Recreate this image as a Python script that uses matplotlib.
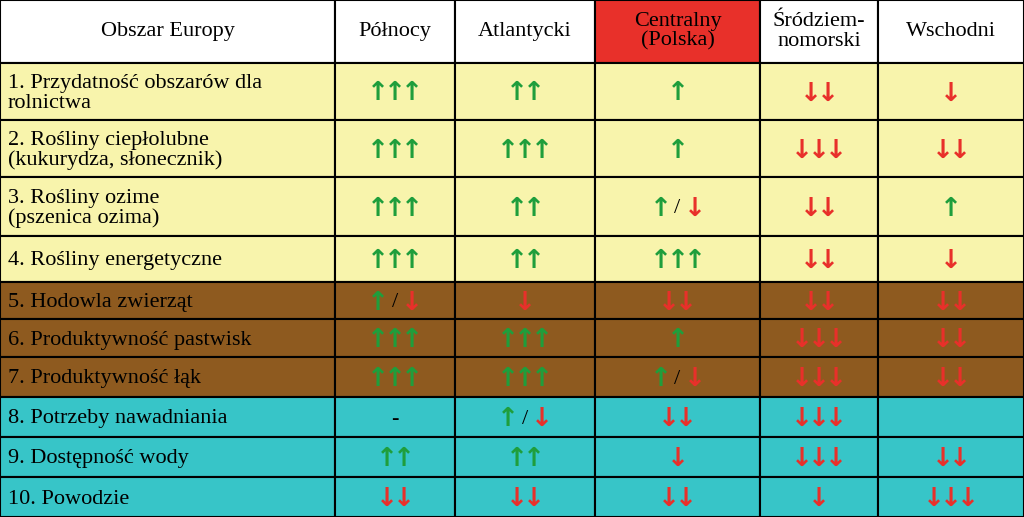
import matplotlib
matplotlib.use("Agg")
import matplotlib.pyplot as plt
from matplotlib.patches import Rectangle

headers = ["Obszar Europy", "Północy", "Atlantycki", "Centralny\n(Polska)", "Śródziem-\nnomorski", "Wschodni"]
rows = ["1. Przydatność obszarów dla\nrolnictwa", "2. Rośliny ciepłolubne\n(kukurydza, słonecznik)",
        "3. Rośliny ozime\n(pszenica ozima)", "4. Rośliny energetyczne", "5. Hodowla zwierząt",
        "6. Produktywność pastwisk", "7. Produktywność łąk", "8. Potrzeby nawadniania",
        "9. Dostępność wody", "10. Powodzie"]
cells = [
    ["uuu", "uu", "u", "dd", "d"],
    ["uuu", "uuu", "u", "ddd", "dd"],
    ["uuu", "uu", "u/d", "dd", "u"],
    ["uuu", "uu", "uuu", "dd", "d"],
    ["u/d", "d", "dd", "dd", "dd"],
    ["uuu", "uuu", "u", "ddd", "dd"],
    ["uuu", "uuu", "u/d", "ddd", "dd"],
    ["-", "u/d", "dd", "ddd", ""],
    ["uu", "uu", "d", "ddd", "dd"],
    ["dd", "dd", "dd", "d", "ddd"],
]
row_groups = [0, 0, 0, 0, 1, 1, 1, 2, 2, 2]

colx = [0, 335, 455, 595, 760, 878, 1024]
rowy = [0, 63, 120, 177, 236, 282, 319, 357, 397, 437, 477, 517]
fills = ["#f8f4ac", "#8e5a1f", "#37c5c8"]
GREEN, RED = "#1f9e3c", "#e8302a"

fig = plt.figure(figsize=(10.24, 5.17), dpi=100)
ax = fig.add_axes([0, 0, 1, 1])
ax.set_xlim(0, 1024); ax.set_ylim(517, 0); ax.axis("off")
serif = "Liberation Serif"

for j in range(6):
    fc = "#e8302a" if j == 3 else "white"
    ax.add_patch(Rectangle((colx[j], rowy[0]), colx[j+1]-colx[j], rowy[1]-rowy[0], fc=fc, ec="black", lw=1.5))
    ax.text((colx[j]+colx[j+1])/2, (rowy[0]+rowy[1])/2, headers[j], ha="center", va="center",
            fontsize=16, family=serif, linespacing=1.05, color="black")

for i in range(len(rows)):
    y0, y1 = rowy[i+1], rowy[i+2]
    fc = fills[row_groups[i]]
    for j in range(6):
        ax.add_patch(Rectangle((colx[j], y0), colx[j+1]-colx[j], y1-y0, fc=fc, ec="black", lw=1.5))
    ax.text(8, (y0+y1)/2 + 2, rows[i], ha="left", va="center", fontsize=16, family=serif, linespacing=1.05)
    for j, c in enumerate(cells[i]):
        cx = (colx[j+1]+colx[j+2])/2; cy = (y0+y1)/2 + 2
        if c == "-":
            ax.text(cx, cy, "-", ha="center", va="center", fontsize=16, family=serif)
            continue
        toks = list(c)
        step = 17
        n = len(toks)
        for k, t in enumerate(toks):
            x = cx + (k - (n-1)/2) * step
            if t == "u":
                ax.text(x, cy, "↑", ha="center", va="center", fontsize=19, color=GREEN, family="DejaVu Sans", fontweight="bold")
            elif t == "d":
                ax.text(x, cy, "↓", ha="center", va="center", fontsize=19, color=RED, family="DejaVu Sans", fontweight="bold")
            else:
                ax.text(x, cy, "/", ha="center", va="center", fontsize=16, color="black", family=serif)

fig.savefig("out.png", dpi=100)
